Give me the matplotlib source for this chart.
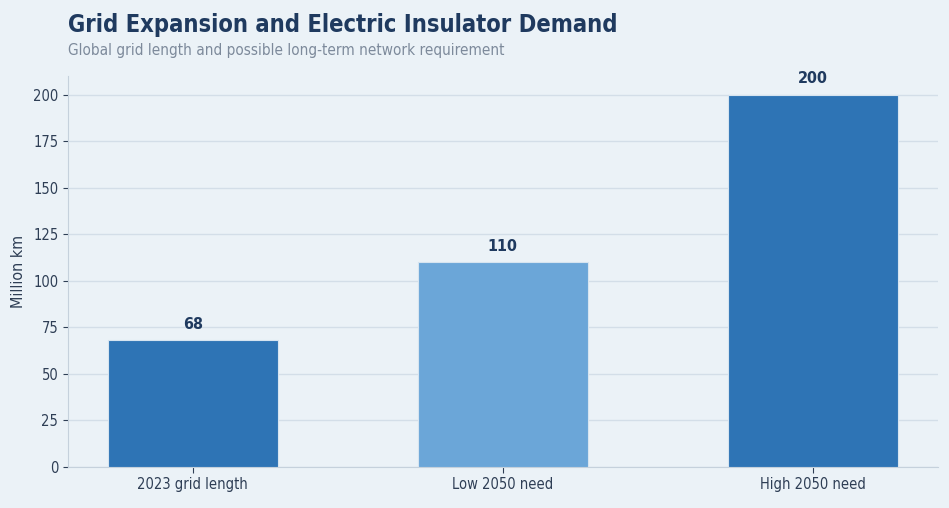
import matplotlib
matplotlib.use("Agg")
import matplotlib.pyplot as plt

plt.rcParams["font.family"] = "DejaVu Sans"
plt.rcParams["font.stretch"] = "condensed"

# data
categories = ["2023 grid length", "Low 2050 need", "High 2050 need"]
values = [68, 110, 200]
bar_colors = ["#2E74B5", "#6BA6D8", "#2E74B5"]

bg = "#EBF2F7"
navy = "#1F3A5F"

fig, ax = plt.subplots(figsize=(9.49, 5.08), dpi=100)
fig.patch.set_facecolor(bg)
ax.set_facecolor(bg)
fig.subplots_adjust(left=0.0717, right=0.988, top=0.85, bottom=0.081)

x = range(len(categories))
bars = ax.bar(x, values, width=0.55, color=bar_colors, edgecolor="#D6E4F0", linewidth=0.8, zorder=3)

for b, v in zip(bars, values):
    ax.annotate(str(v), (b.get_x() + b.get_width() / 2, v), xytext=(0, 6),
                textcoords="offset points", ha="center", va="bottom",
                fontsize=11.5, fontweight="bold", color=navy)

ax.set_xticks(list(x))
ax.set_xticklabels(categories)
ax.set_ylim(0, 210)
ax.set_yticks(range(0, 201, 25))
ax.set_ylabel("Million km", fontsize=11.5, color="#2E3E55", labelpad=5)
ax.tick_params(axis="both", labelsize=10.5, colors="#2E3E55")
ax.tick_params(axis="x", length=4, color="#2E3E55")
ax.grid(axis="y", color="#D3DEE8", linewidth=1, zorder=0)
for s in ["top", "right"]:
    ax.spines[s].set_visible(False)
for s in ["left", "bottom"]:
    ax.spines[s].set_color("#C5D1DC")

fig.text(0.0717, 0.937, "Grid Expansion and Electric Insulator Demand",
         fontsize=17, fontweight="bold", color=navy, va="baseline")
fig.text(0.0717, 0.892, "Global grid length and possible long-term network requirement",
         fontsize=11, color="#7D8A9B", va="baseline")

fig.savefig("out.png", dpi=100, facecolor=bg)
